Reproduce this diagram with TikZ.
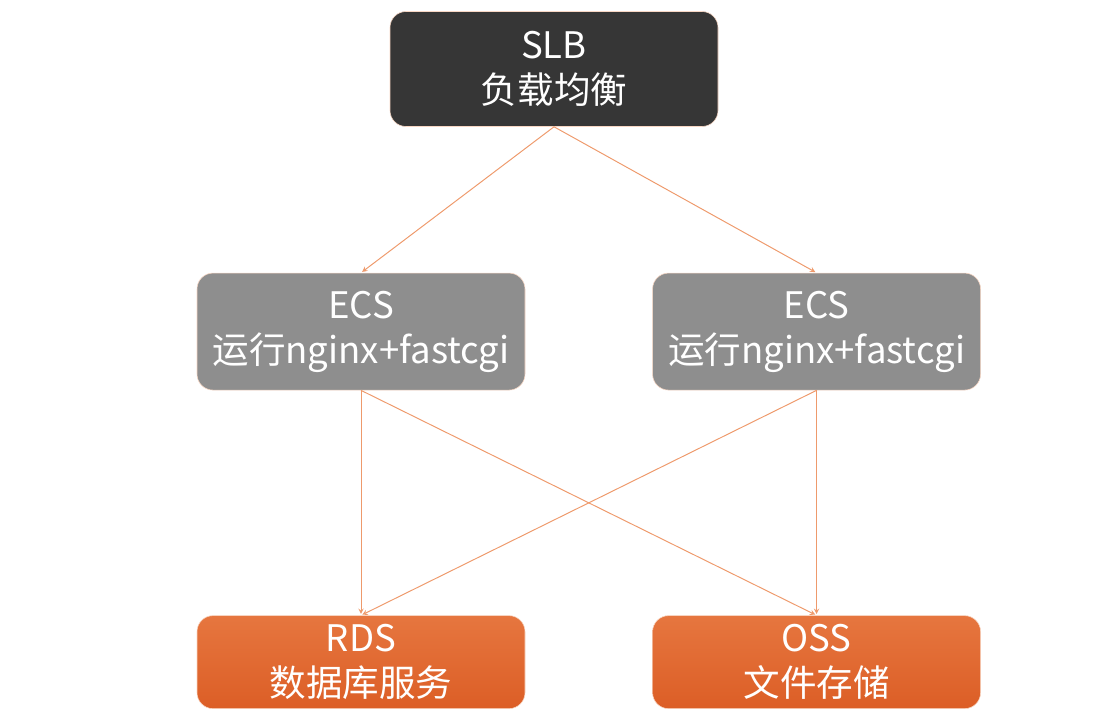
\documentclass[tikz,border=0pt]{standalone}
\usepackage{fontspec}
\setmainfont{Noto Sans CJK SC}
\usepackage{tikz}
\usetikzlibrary{positioning}

\definecolor{slbgray}{HTML}{363636}
\definecolor{ecsgray}{HTML}{8E8E8E}
\definecolor{svctop}{HTML}{E6763F}
\definecolor{svcbot}{HTML}{DC5E26}
\definecolor{linkorange}{HTML}{EE9A6C}

\tikzset{
    box/.style={rounded corners=0.4cm, minimum width=8.2cm, align=center, text=white,
        font=\fontsize{26}{32}\selectfont, draw=linkorange!40, line width=0.4pt},
    slbbox/.style={box, fill=slbgray, minimum height=2.875cm},
    ecsbox/.style={box, fill=ecsgray, minimum height=2.925cm},
    svcbox/.style={box, top color=svctop, bottom color=svcbot, minimum height=2.325cm},
    link/.style={->, >=stealth, draw=linkorange, line width=0.7pt, shorten >=1pt}
}

\begin{document}
\begin{tikzpicture}
    \useasboundingbox (0,0) rectangle (27.425,-18);

    \node[slbbox] (slb) at (13.85,-1.725) {SLB\\负载均衡};
    \node[ecsbox, below=3.65cm of slb, xshift=-4.825cm] (ecs1) {ECS\\运行nginx+fastcgi};
    \node[ecsbox, right=3.175cm of ecs1] (ecs2) {ECS\\运行nginx+fastcgi};
    \node[svcbox, below=5.625cm of ecs1] (rds) {RDS\\数据库服务};
    \node[svcbox, below=5.625cm of ecs2] (oss) {OSS\\文件存储};

    % slb -> ecs
    \draw[link] (slb.south) -- (ecs1.north);
    \draw[link] (slb.south) -- (ecs2.north);

    % ecs -> rds / oss
    \draw[link] (ecs1.south) -- (rds.north);
    \draw[link] (ecs1.south) -- (oss.north);
    \draw[link] (ecs2.south) -- (rds.north);
    \draw[link] (ecs2.south) -- (oss.north);
\end{tikzpicture}
\end{document}
